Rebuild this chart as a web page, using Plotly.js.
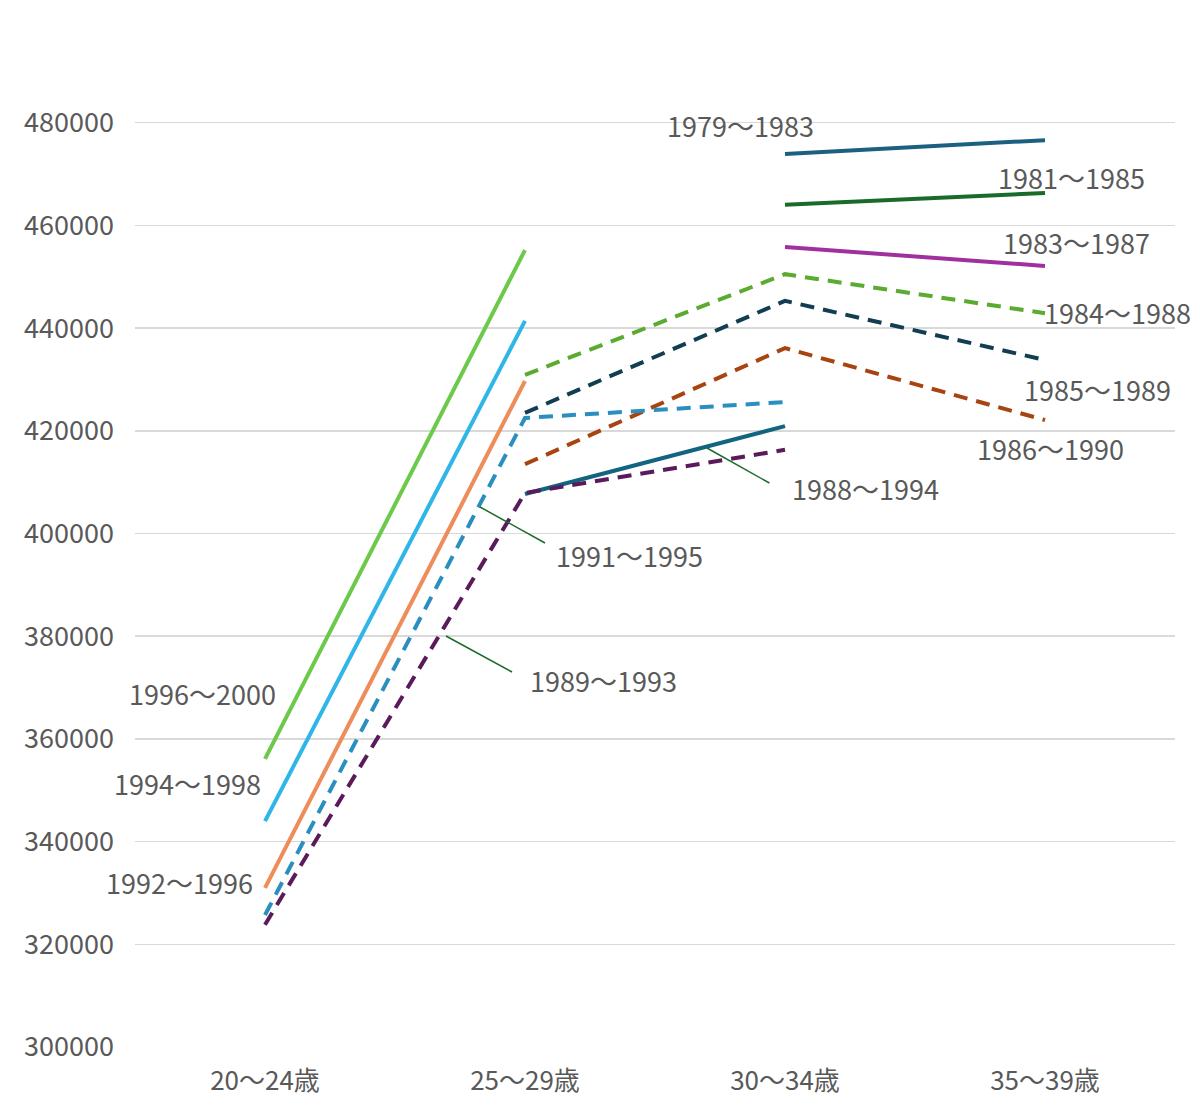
<!DOCTYPE html>
<html>
<head>
<meta charset="utf-8">
<script src="https://cdn.plot.ly/plotly-3.0.1.min.js"></script>
<style>body{margin:0;background:#fff}</style>
</head>
<body>
<div id="chart" style="width:1200px;height:1113px"></div>
<script>
// ------------ input data ------------
const ageGroups = ["20〜24歳", "25〜29歳", "30〜34歳", "35〜39歳"];

const cohortNames = ["1979〜1983", "1981〜1985", "1983〜1987", "1984〜1988", "1985〜1989", "1986〜1990",
  "1988〜1994", "1989〜1993", "1991〜1995", "1992〜1996", "1994〜1998", "1996〜2000"];

// values per age group (null = no data)
const v1979 = [null, null, 473900, 476600];
const v1981 = [null, null, 464000, 466300];
const v1983 = [null, null, 455800, 452100];
const v1984 = [null, 430900, 450500, 442900];
const v1985 = [null, 423500, 445300, 433800];
const v1986 = [null, 413500, 436100, 422100];
const v1988 = [null, 407700, 420900, null];
const v1989 = [323800, 407900, 416300, null];
const v1991 = [325700, 422500, 425600, null];
const v1992 = [331000, 429700, null, null];
const v1994 = [344000, 441400, null, null];
const v1996 = [356100, 455200, null, null];
// ------------ end input data ------------

const seriesValues = [v1979, v1981, v1983, v1984, v1985, v1986, v1988, v1989, v1991, v1992, v1994, v1996];
const colors = ["#1b6080", "#1a6b2a", "#a0309f", "#5aab2f", "#123e52", "#a8440f",
  "#126480", "#5b1a5b", "#2a8fc0", "#ee8c5a", "#2fb5e8", "#6cc94a"];
const dashes = ["solid", "solid", "solid", "dash", "dash", "dash",
  "solid", "dash", "dash", "solid", "solid", "solid"];

const xIdx = ageGroups.map((_, i) => i);

const data = seriesValues.map((vals, i) => ({
  x: xIdx,
  y: vals,
  type: "scatter",
  mode: "lines",
  name: cohortNames[i],
  connectgaps: false,
  hoverinfo: "none",
  line: { color: colors[i], width: 4, dash: dashes[i] === "dash" ? "14px,9px" : "solid" },
}));

// label positions (category index, value)
const labelPos = [
  [1.83, 479400], [3.10, 469400], [3.12, 456600], [3.28, 443100], [3.20, 428100], [3.02, 416650],
  [2.31, 408700], [1.30, 371300], [1.40, 395800], [-0.33, 332100], [-0.30, 351400], [-0.24, 368900],
];

const annotations = cohortNames.map((n, i) => ({
  x: labelPos[i][0], y: labelPos[i][1], xref: "x", yref: "y",
  text: n, showarrow: false,
  font: { size: 27, color: "#595959" },
}));

// leader lines
const leaders = [
  [1.94, 409830, 1.70, 416650],
  [1.077, 398150, 0.827, 405160],
  [0.95, 373030, 0.696, 380040],
];
const shapes = leaders.map((l) => ({
  type: "line", xref: "x", yref: "y",
  x0: l[0], y0: l[1], x1: l[2], y1: l[3],
  line: { color: "#1a6b2a", width: 1.5 },
}));

const layout = {
  width: 1200,
  height: 1113,
  margin: { t: 20, b: 66, l: 135, r: 25 },
  showlegend: false,
  paper_bgcolor: "#fff",
  plot_bgcolor: "#fff",
  font: { family: "Noto Sans CJK JP, Noto Sans, sans-serif", color: "#595959" },
  xaxis: {
    range: [-0.5, 3.5],
    tickvals: xIdx,
    ticktext: ageGroups,
    showgrid: false,
    zeroline: false,
    showline: false,
    ticks: "",
    ticklabelstandoff: 16,
    tickfont: { size: 26, color: "#595959" },
  },
  yaxis: {
    range: [300000, 500000],
    dtick: 20000,
    tickformat: "d",
    gridcolor: "#d9d9d9",
    gridwidth: 1.5,
    zeroline: false,
    ticks: "",
    ticklabelstandoff: 20,
    tickfont: { size: 27, color: "#595959" },
  },
  annotations: annotations,
  shapes: shapes,
};

Plotly.newPlot("chart", data, layout, { staticPlot: true });
</script>
</body>
</html>
